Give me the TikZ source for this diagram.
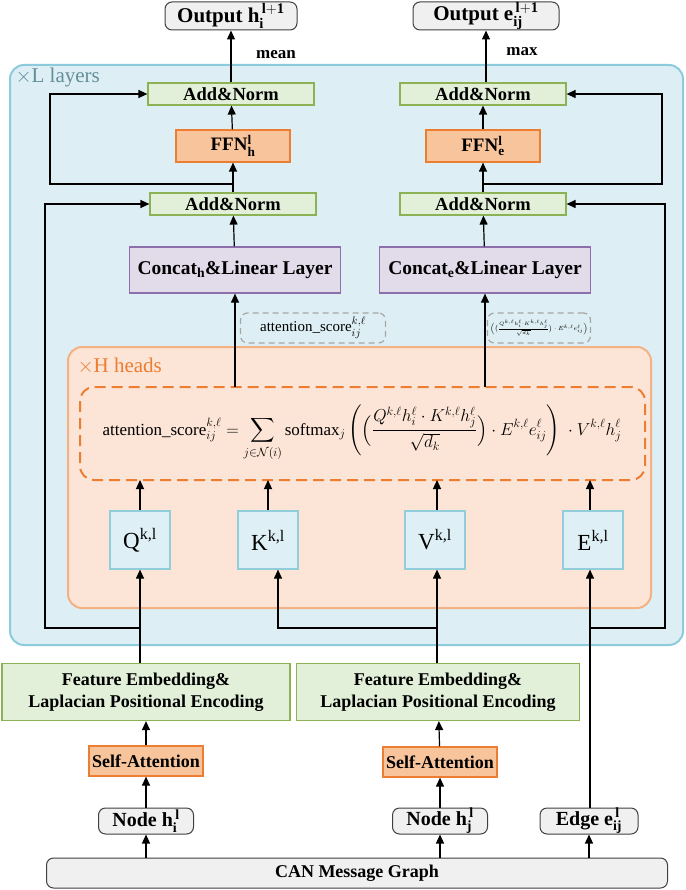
\documentclass[tikz,border=0pt]{standalone}
\usepackage{amsmath,amssymb}
\usepackage{fontspec}
\setmainfont{Liberation Serif}
\usetikzlibrary{arrows.meta, calc, positioning}

\definecolor{layerfill}{HTML}{DDEFF4}
\definecolor{layerline}{HTML}{8CCBDC}
\definecolor{headfill}{HTML}{FCE4D6}
\definecolor{headline}{HTML}{F4B183}
\definecolor{normfill}{HTML}{E2EFD9}
\definecolor{normline}{HTML}{8DB255}
\definecolor{ffnfill}{HTML}{F8C49B}
\definecolor{ffnline}{HTML}{ED7D31}
\definecolor{catfill}{HTML}{E2DBEA}
\definecolor{catline}{HTML}{8E6FAE}
\definecolor{qkvfill}{HTML}{DEEFF5}
\definecolor{qkvline}{HTML}{92CDDC}
\definecolor{iofill}{HTML}{F0F0F0}

\tikzset{
  arr/.style={-{Triangle[length=9pt,width=8pt]}, line width=1.2pt},
  io/.style={draw=black!75, fill=iofill, rounded corners=7pt, line width=1pt, font=\fontsize{21}{23}\selectfont\bfseries, inner sep=0pt},
  norm/.style={draw=normline, fill=normfill, line width=1.2pt, minimum width=166pt, minimum height=22pt, font=\fontsize{18.5}{20}\selectfont\bfseries, inner sep=0pt},
  ffn/.style={draw=ffnline, fill=ffnfill, line width=1.2pt, minimum width=114pt, minimum height=32pt, font=\fontsize{19}{21}\selectfont\bfseries, inner sep=0pt},
  cat/.style={draw=catline, fill=catfill, line width=1.2pt, minimum width=211pt, minimum height=46pt, font=\fontsize{19.5}{21}\selectfont\bfseries, inner sep=0pt},
  qkv/.style={draw=qkvline, fill=qkvfill, line width=1.2pt, minimum width=60pt, minimum height=58pt, font=\fontsize{23}{25}\selectfont, inner sep=0pt},
  feat/.style={draw=normline, fill=normfill, line width=1.2pt, minimum height=57pt, align=center, font=\fontsize{18}{22}\selectfont\bfseries, inner sep=0pt},
  sa/.style={draw=ffnline, fill=ffnfill, line width=1.2pt, minimum width=114pt, minimum height=30pt, font=\fontsize{18}{20}\selectfont\bfseries, inner sep=0pt},
  score/.style={draw=black!35, dashed, dash pattern=on 6pt off 4pt, rounded corners=7pt, line width=1.2pt, fill=layerfill, inner sep=0pt}
}

\begin{document}
\begin{tikzpicture}[x=1pt, y=-1pt]
\useasboundingbox (0,0) rectangle (685,890);

% containers
\draw[draw=layerline, fill=layerfill, line width=2pt, rounded corners=14pt] (10,65) rectangle (683,645);
\node[anchor=west, text=layerline!70!black, font=\fontsize{21}{23}\selectfont] at (12,77) {$\times$L layers};
\draw[draw=headline, fill=headfill, line width=2pt, rounded corners=14pt] (68,347) rectangle (651,608);
\node[anchor=west, text=ffnline, font=\fontsize{21}{23}\selectfont] at (74,366) {$\times$H heads};

% outputs
\node[io, minimum width=132pt, minimum height=28pt] (outh) at (231,16) {Output h$_\mathbf{i}^\mathbf{\,l+1}$};
\node[io, minimum width=146pt, minimum height=28pt] (oute) at (486,16) {Output e$_\mathbf{ij}^\mathbf{\,l+1}$};

% layer blocks
\node[norm] (normh2) at (231,94) {Add\&Norm};
\node[ffn] (ffnh) at (233,146) {FFN$^\mathbf{l}_\mathbf{h}$};
\node[norm] (normh1) at (233,204) {Add\&Norm};
\node[cat] (cath) at (235,270) {Concat$_\mathbf{h}$\&Linear Layer};
\node[norm] (norme2) at (483,94) {Add\&Norm};
\node[ffn] (ffne) at (483,146) {FFN$^\mathbf{l}_\mathbf{e}$};
\node[norm] (norme1) at (483,204) {Add\&Norm};
\node[cat] (cate) at (485,270) {Concat$_\mathbf{e}$\&Linear Layer};

% scores
\node[score, minimum width=145pt, minimum height=30pt, font=\fontsize{15}{17}\selectfont] (sc) at (313,328) {attention\_score$_{ij}^{k,\ell}$};
\node[score, minimum width=103pt, minimum height=30pt, font=\fontsize{6.5}{7}\selectfont] (scm) at (539,328) {$\Bigl(\bigl(\frac{Q^{k,\ell}h_i^\ell\cdot K^{k,\ell}h_j^\ell}{\sqrt{d_k}}\bigr)\cdot E^{k,\ell}e_{ij}^\ell\Bigr)$};

% formula
\draw[draw=ffnline, dashed, dash pattern=on 11pt off 6pt, line width=2pt, rounded corners=14pt] (80,387) rectangle (645,480);
\node[font=\fontsize{17}{19}\selectfont] (attn) at (362,433) {$\text{attention\_score}_{ij}^{k,\ell} = \displaystyle\sum_{j\in\mathcal{N}(i)} \text{softmax}_j\left( \Bigl(\frac{Q^{k,\ell}h_i^\ell\cdot K^{k,\ell}h_j^\ell}{\sqrt{d_k}}\Bigr)\cdot E^{k,\ell}e_{ij}^\ell\right)\ \cdot V^{k,\ell}h_j^\ell$};

% heads
\node[qkv] (q) at (140,540) {Q$^\text{k,l}$};
\node[qkv] (k) at (268,540) {K$^\text{k,l}$};
\node[qkv] (v) at (435,540) {V$^\text{k,l}$};
\node[qkv] (e) at (593,540) {E$^\text{k,l}$};

% inputs
\node[feat, minimum width=288pt] (feath) at (146,692) {Feature Embedding\&\\Laplacian Positional Encoding};
\node[feat, minimum width=283pt] (feate) at (438,692) {Feature Embedding\&\\Laplacian Positional Encoding};
\node[sa] (sah) at (146,761) {Self-Attention};
\node[sa] (sae) at (440,762) {Self-Attention};
\node[io, minimum width=95pt, minimum height=26pt, font=\fontsize{20}{22}\selectfont\bfseries] (nodei) at (146,821) {Node h$_\mathbf{i}^\mathbf{\,l}$};
\node[io, minimum width=95pt, minimum height=26pt, font=\fontsize{20}{22}\selectfont\bfseries] (nodej) at (440,821) {Node h$_\mathbf{j}^\mathbf{\,l}$};
\node[io, minimum width=98pt, minimum height=26pt, font=\fontsize{20}{22}\selectfont\bfseries] (edge) at (589,821) {Edge e$_\mathbf{ij}^\mathbf{\,l}$};
\node[io, minimum width=621pt, minimum height=30pt, font=\fontsize{18}{20}\selectfont\bfseries] (can) at (357,873) {CAN Message Graph};

\coordinate (fbh) at (233,184);
\coordinate (fbe) at (483,184);
\coordinate (jq) at (140,628);
\coordinate (jv) at (437,628);
\coordinate (je) at (590,628);

% bottom inputs
\foreach \a/\b in {nodei/sah, nodej/sae, sah/feath, sae/feate}
  \draw[arr] (\a) -- (\b);
\draw[arr] (can.north -| nodei) -- (nodei);
\draw[arr] (can.north -| nodej) -- (nodej);
\draw[arr] (can.north -| edge) -- (edge);
\draw[arr] (feath.north -| q) -- (q);
\draw[arr] (feate.north -| jv) -- (v.south -| jv);
\draw[arr] (jv) -| (k.south -| 278,0);
\draw[arr] (edge.north -| je) -- (e.south -| je);

% heads to formula
\foreach \n/\x in {q/140, k/268, v/437, e/590}
  \draw[arr] (\n.north -| \x,0) -- (\x,480);
\draw[arr] (235,387) -- (cath.south);
\draw[arr] (485,387) -- (cate.south);

% layer stacks
\draw[arr] (cath) -- (normh1);
\draw[arr] (normh1) -- (ffnh);
\draw[arr] (ffnh) -- (normh2);
\draw[arr] (normh2.north -| outh) -- (outh);
\draw[arr] (cate) -- (norme1);
\draw[arr] (norme1) -- (ffne);
\draw[arr] (ffne) -- (norme2);
\draw[arr] (norme2.north -| oute) -- (oute);
\node[font=\fontsize{17}{19}\selectfont\bfseries] at (276,55) {mean};
\node[font=\fontsize{17}{19}\selectfont\bfseries] at (522,52) {max};

% residuals
\draw[arr] (fbh) -- (50,184) |- (normh2.west);
\draw[arr] (fbe) -- (662,184) |- (norme2.east);
\draw[arr] (jq) -- (45,628) |- (normh1.west);
\draw[arr] (je) -- (665,628) |- (norme1.east);
\end{tikzpicture}
\end{document}
